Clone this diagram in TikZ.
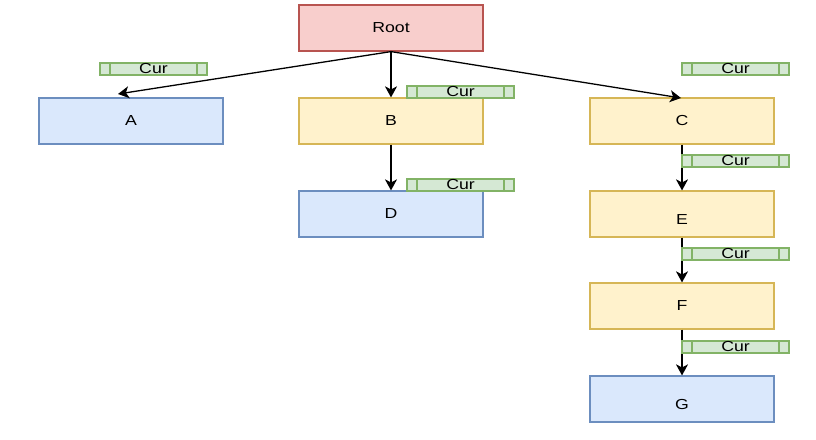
\documentclass[tikz,border=0pt]{standalone}
\usepackage{fontspec}
\usepackage{graphicx}
\setmainfont{Liberation Sans}
\usetikzlibrary{arrows.meta}
\definecolor{rfill}{HTML}{F8CECC}\definecolor{rline}{HTML}{B85450}
\definecolor{bfill}{HTML}{DAE8FC}\definecolor{bline}{HTML}{6C8EBF}
\definecolor{yfill}{HTML}{FFF2CC}\definecolor{yline}{HTML}{D6B656}
\definecolor{gfill}{HTML}{D5E8D4}\definecolor{gline}{HTML}{82B366}
\newcommand\wtxt[1]{\scalebox{1.22}[1]{#1}}
\begin{document}
\begin{tikzpicture}[x=1pt,y=-1pt,
  box/.style={draw,line width=1.2pt,minimum width=184pt,minimum height=46pt,inner sep=0pt,font=\fontsize{14.5}{16}\selectfont},
  redbox/.style={box,fill=rfill,draw=rline},
  bluebox/.style={box,fill=bfill,draw=bline},
  yelbox/.style={box,fill=yfill,draw=yline},
  low/.style={text height=20pt,text depth=0pt},
  curbox/.style={draw=gline,fill=gfill,line width=1.2pt,minimum width=107pt,minimum height=12pt,inner sep=0pt,font=\fontsize{14.5}{12}\selectfont,
    path picture={\draw[gline,line width=1.2pt] ([xshift=10pt]path picture bounding box.north west) -- ([xshift=10pt]path picture bounding box.south west)
      ([xshift=-10pt]path picture bounding box.north east) -- ([xshift=-10pt]path picture bounding box.south east);}},
  arr/.style={-{Stealth[length=11pt,width=12pt,inset=3pt]},line width=1.3pt}]
\useasboundingbox (0,0) rectangle (816,439);
\node[redbox] (root) at (391,28) {\wtxt{Root}};
\node[bluebox] (A) at (131,121) {\wtxt{A}};
\node[yelbox] (B) at (391,121) {\wtxt{B}};
\node[yelbox] (C) at (682,121) {\wtxt{C}};
\node[bluebox] (D) at (391,214) {\wtxt{D}};
\node[yelbox,low] (E) at (682,214) {\wtxt{E}};
\node[yelbox] (F) at (682,306) {\wtxt{F}};
\node[bluebox,low] (G) at (682,399) {\wtxt{G}};
\coordinate (ta) at (118,94);
\coordinate (tc) at (681,98);
\draw[arr] (root.south) -- (ta);
\draw[arr] (root.south) -- (B.north);
\draw[arr] (root.south) -- (tc);
\draw[arr] (B.south) -- (D.north);
\draw[arr] (C.south) -- (E.north);
\draw[arr] (E.south) -- (F.north);
\draw[arr] (F.south) -- (G.north);
\node[curbox] (c1) at (153.5,69) {\wtxt{Cur}};
\node[curbox] (c2) at (460.5,92) {\wtxt{Cur}};
\node[curbox] (c3) at (735.5,69) {\wtxt{Cur}};
\node[curbox] (c4) at (460.5,185) {\wtxt{Cur}};
\node[curbox] (c5) at (735.5,161) {\wtxt{Cur}};
\node[curbox] (c6) at (735.5,254) {\wtxt{Cur}};
\node[curbox] (c7) at (735.5,347) {\wtxt{Cur}};
\end{tikzpicture}
\end{document}
